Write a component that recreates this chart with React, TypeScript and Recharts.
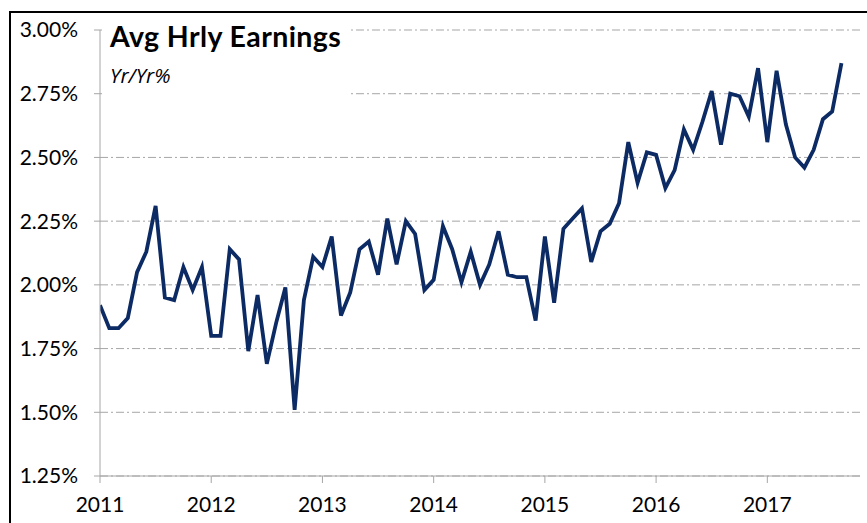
import React from "react";
import { LineChart, Line, XAxis, YAxis, CartesianGrid } from "recharts";

const years = ["2011", "2012", "2013", "2014", "2015", "2016", "2017"];
const yTicks = [1.25, 1.5, 1.75, 2.0, 2.25, 2.5, 2.75, 3.0];

const v2011 = [1.92, 1.83, 1.83, 1.87, 2.05, 2.13, 2.31, 1.95, 1.94, 2.07, 1.98, 2.07];
const v2012 = [1.8, 1.8, 2.14, 2.1, 1.74, 1.96, 1.69, 1.85, 1.99, 1.51, 1.94, 2.11];
const v2013 = [2.07, 2.19, 1.88, 1.97, 2.14, 2.17, 2.04, 2.26, 2.08, 2.25, 2.2, 1.98];
const v2014 = [2.02, 2.23, 2.14, 2.01, 2.13, 2.0, 2.08, 2.21, 2.04, 2.03, 2.03, 1.86];
const v2015 = [2.19, 1.93, 2.22, 2.26, 2.3, 2.09, 2.21, 2.24, 2.32, 2.56, 2.4, 2.52];
const v2016 = [2.51, 2.38, 2.45, 2.61, 2.53, 2.64, 2.76, 2.55, 2.75, 2.74, 2.66, 2.85];
const v2017 = [2.56, 2.84, 2.63, 2.5, 2.46, 2.53, 2.65, 2.68, 2.87];

const values = [...v2011, ...v2012, ...v2013, ...v2014, ...v2015, ...v2016, ...v2017];
const data = values.map((v, i) => ({ m: i, v }));
const xTicks = years.map((_, i) => i * 12);

const FONT = "Lato, 'Noto Sans', sans-serif";

export default function App() {
  return (
    <div style={{ position: "absolute", left: 0, top: 0, width: 867, height: 523, background: "#fff", overflow: "hidden" }}>
      <div style={{ position: "absolute", left: 9, top: 11, width: 900, height: 600, borderLeft: "2px solid #000", borderTop: "2px solid #000" }} />
      <div style={{ position: "absolute", left: 0, top: 0 }}>
        <LineChart width={867} height={523} data={data} margin={{ top: 30, right: 7, bottom: 7, left: 10 }}>
          <CartesianGrid horizontal={true} vertical={false} stroke="#a6a6a6" strokeDasharray="8 3 2 3" />
          <XAxis
            type="number"
            dataKey="m"
            domain={[0, 82]}
            ticks={xTicks}
            tickFormatter={(i: number) => years[Math.round(i / 12)]}
            height={40}
            stroke="#a6a6a6"
            tickSize={7}
            tickMargin={14}
            tick={{ fill: "#000", fontSize: 21, fontFamily: FONT }}
            allowDataOverflow
          />
          <YAxis
            type="number"
            domain={[1.25, 3.0]}
            ticks={yTicks}
            tickFormatter={(v: number) => v.toFixed(2) + "%"}
            width={90}
            stroke="#a6a6a6"
            tickSize={6}
            tickMargin={16}
            tick={{ fill: "#000", fontSize: 21, fontFamily: FONT }}
            allowDataOverflow
          />
          <Line
            type="linear"
            dataKey="v"
            stroke="#0c2a63"
            strokeWidth={3.8}
            dot={false}
            isAnimationActive={false}
          />
        </LineChart>
      </div>
      <div style={{ position: "absolute", left: 102, top: 16, width: 246, height: 86, background: "#fff" }}>
        <div style={{ position: "absolute", left: 8, top: 4, fontFamily: FONT, fontWeight: 700, fontSize: 28.5, letterSpacing: 0.4, color: "#000", whiteSpace: "nowrap", lineHeight: "32px" }}>
          Avg Hrly Earnings
        </div>
        <div style={{ position: "absolute", left: 8, top: 46, fontFamily: "'Open Sans', 'Noto Sans', sans-serif", fontStyle: "italic", fontSize: 20.5, color: "#000", whiteSpace: "nowrap", lineHeight: "26px" }}>
          Yr/Yr%
        </div>
      </div>
    </div>
  );
}
